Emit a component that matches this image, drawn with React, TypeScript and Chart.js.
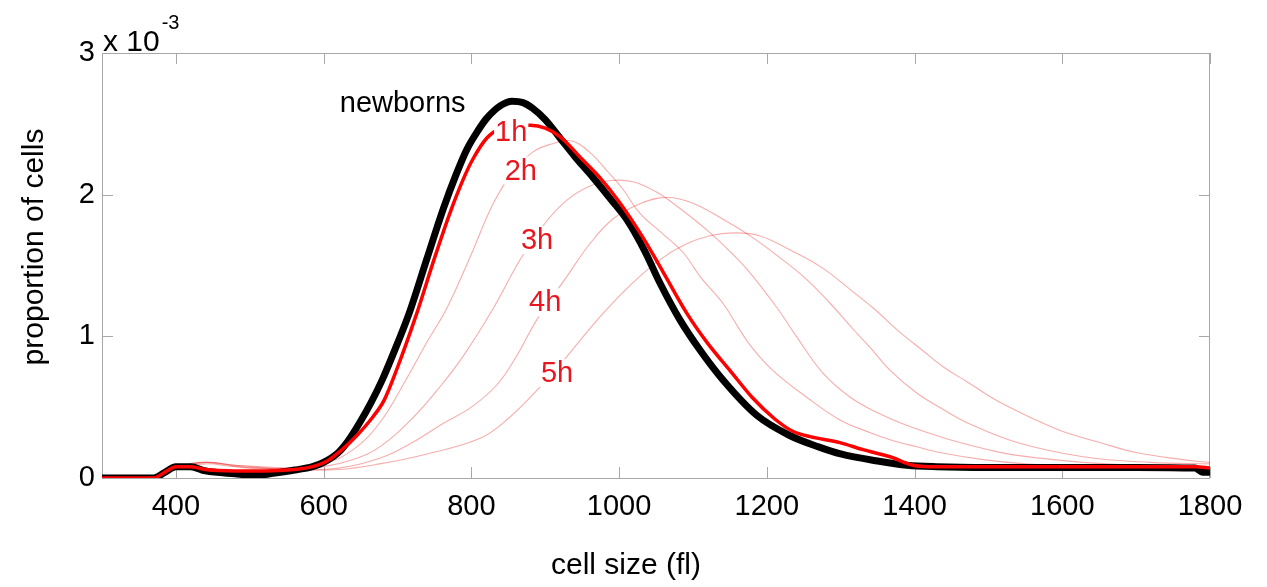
import React, { useEffect, useRef } from "react";
import { Chart, registerables } from "chart.js";

Chart.register(...registerables);

const FONT = "'Liberation Sans', Arial, Helvetica, sans-serif";

// axis ticks
const xTickValues = [400, 600, 800, 1000, 1200, 1400, 1600, 1800];
const yTickValues = [0, 1, 2, 3];
const yExponent = "-3";
const xTitle = "cell size (fl)";
const yTitle = "proportion of cells";

// newborns (black)
const newbornsX = [300, 370, 385, 400, 420, 440, 480, 510, 534, 561, 585, 600, 620, 633, 650, 664, 680, 700, 717, 740, 762, 780, 794, 810, 821, 840, 855, 870, 883, 900, 920, 940, 965, 990, 1011, 1035, 1055, 1082, 1110, 1141, 1187, 1231, 1270, 1300, 1350, 1390, 1430, 1500, 1600, 1700, 1780, 1790, 1800];
const newbornsY = [0.0, 0.0, 0.04, 0.08, 0.08, 0.05, 0.03, 0.02, 0.035, 0.056, 0.08, 0.11, 0.18, 0.26, 0.4, 0.53, 0.7, 0.95, 1.18, 1.55, 1.9, 2.15, 2.32, 2.46, 2.54, 2.63, 2.66, 2.65, 2.61, 2.53, 2.4, 2.27, 2.12, 1.96, 1.82, 1.6, 1.38, 1.12, 0.9, 0.69, 0.44, 0.3, 0.22, 0.17, 0.12, 0.09, 0.08, 0.075, 0.075, 0.075, 0.07, 0.04, 0.04];

// 1h (red, thick)
const h1X = [300, 370, 385, 400, 420, 440, 480, 520, 560, 585, 605, 625, 645, 665, 682, 700, 726, 750, 771, 790, 802, 821, 840, 860, 880, 900, 920, 950, 974, 1000, 1032, 1060, 1092, 1120, 1150, 1180, 1210, 1235, 1260, 1299, 1330, 1367, 1398, 1420, 1500, 1600, 1700, 1780, 1800];
const h1Y = [0.0, 0.0, 0.04, 0.08, 0.08, 0.06, 0.05, 0.05, 0.06, 0.08, 0.12, 0.2, 0.3, 0.42, 0.55, 0.78, 1.16, 1.55, 1.87, 2.12, 2.25, 2.4, 2.47, 2.49, 2.49, 2.47, 2.41, 2.25, 2.12, 1.95, 1.7, 1.45, 1.16, 0.95, 0.76, 0.57, 0.42, 0.33, 0.29, 0.25, 0.2, 0.15, 0.09, 0.08, 0.08, 0.08, 0.08, 0.08, 0.07];

// 2h (thin)
const h2X = [300, 370, 400, 430, 460, 500, 560, 600, 640, 676, 710, 740, 767, 800, 829, 855, 883, 910, 935, 960, 985, 1005, 1028, 1060, 1087, 1110, 1141, 1164, 1180, 1208, 1254, 1299, 1340, 1367, 1403, 1434, 1493, 1550, 1600, 1700, 1800];
const h2Y = [0.0, 0.0, 0.07, 0.11, 0.1, 0.07, 0.07, 0.1, 0.2, 0.39, 0.68, 0.96, 1.2, 1.58, 1.93, 2.15, 2.3, 2.36, 2.38, 2.3, 2.16, 2.04, 1.87, 1.72, 1.59, 1.42, 1.23, 1.04, 0.92, 0.76, 0.57, 0.41, 0.32, 0.27, 0.22, 0.18, 0.13, 0.1, 0.09, 0.085, 0.08];

// 3h (thin)
const h3X = [300, 370, 400, 440, 480, 560, 600, 640, 676, 720, 760, 789, 830, 866, 900, 929, 960, 990, 1020, 1050, 1078, 1119, 1150, 1177, 1214, 1240, 1276, 1313, 1350, 1390, 1448, 1500, 1539, 1628, 1700, 1800];
const h3Y = [0.0, 0.0, 0.07, 0.11, 0.09, 0.07, 0.08, 0.13, 0.22, 0.42, 0.66, 0.86, 1.2, 1.54, 1.8, 1.96, 2.06, 2.1, 2.09, 2.02, 1.92, 1.75, 1.6, 1.45, 1.2, 1.0, 0.74, 0.57, 0.46, 0.37, 0.27, 0.2, 0.16, 0.11, 0.09, 0.08];

// 4h (thin)
const h4X = [300, 370, 400, 440, 480, 560, 620, 676, 720, 760, 800, 835, 860, 889, 929, 960, 992, 1030, 1065, 1100, 1146, 1180, 1214, 1250, 1281, 1317, 1340, 1367, 1403, 1440, 1471, 1539, 1628, 1719, 1800];
const h4Y = [0.0, 0.0, 0.07, 0.11, 0.09, 0.06, 0.07, 0.14, 0.25, 0.38, 0.5, 0.66, 0.85, 1.12, 1.42, 1.65, 1.83, 1.94, 1.98, 1.94, 1.81, 1.7, 1.57, 1.42, 1.26, 1.05, 0.92, 0.76, 0.6, 0.48, 0.39, 0.25, 0.15, 0.11, 0.1];

// 5h (thin)
const h5X = [300, 370, 400, 440, 480, 560, 620, 676, 740, 812, 850, 889, 920, 947, 978, 1015, 1055, 1090, 1123, 1155, 1190, 1235, 1276, 1313, 1344, 1380, 1411, 1440, 1471, 1510, 1560, 1600, 1651, 1700, 1763, 1800];
const h5Y = [0.0, 0.0, 0.07, 0.1, 0.08, 0.06, 0.06, 0.1, 0.17, 0.28, 0.42, 0.62, 0.8, 0.97, 1.16, 1.36, 1.54, 1.65, 1.71, 1.73, 1.71, 1.6, 1.48, 1.33, 1.2, 1.03, 0.9, 0.78, 0.68, 0.55, 0.42, 0.33, 0.25, 0.18, 0.13, 0.11];

// in-plot curve labels (data coordinates)
const labelTexts = ["newborns", "1h", "2h", "3h", "4h", "5h"];
const labelX = [707, 854, 867, 889, 900, 916];
const labelY = [2.65, 2.44, 2.17, 1.68, 1.24, 0.74];

const RED = "#ff0000";
const LABEL_RED = "#e8161e";
const THIN = "rgba(235, 40, 40, 0.38)";

const zip = (xs: number[], ys: number[]) => xs.map((x, i) => ({ x, y: ys[i] }));

const decorPlugin = {
  id: "decor",
  beforeDatasetsDraw(chart: any) {
    const { ctx, chartArea: a, scales } = chart;
    ctx.save();
    ctx.strokeStyle = "#a8a8a8";
    ctx.lineWidth = 1;
    ctx.strokeRect(a.left + 0.5, a.top + 0.5, a.right - a.left - 1, a.bottom - a.top);
    const L = 11;
    ctx.beginPath();
    for (const v of xTickValues) {
      const px = Math.round(scales.x.getPixelForValue(v)) + 0.5;
      ctx.moveTo(px, a.bottom);
      ctx.lineTo(px, a.bottom - L);
      ctx.moveTo(px, a.top);
      ctx.lineTo(px, a.top + L);
    }
    for (const v of yTickValues) {
      const py = Math.round(scales.y.getPixelForValue(v)) + 0.5;
      ctx.moveTo(a.left, py);
      ctx.lineTo(a.left + L, py);
      ctx.moveTo(a.right, py);
      ctx.lineTo(a.right - L, py);
    }
    ctx.stroke();
    ctx.restore();
  },
  afterDatasetsDraw(chart: any) {
    const { ctx, chartArea: a, scales } = chart;
    ctx.save();
    // curve labels with white backing
    ctx.font = `29px ${FONT}`;
    ctx.textAlign = "center";
    ctx.textBaseline = "middle";
    labelTexts.forEach((t, i) => {
      const px = scales.x.getPixelForValue(labelX[i]);
      const py = scales.y.getPixelForValue(labelY[i]);
      const w = ctx.measureText(t).width;
      ctx.fillStyle = "#ffffff";
      ctx.fillRect(px - w / 2 - 1, py - 14, w + 2, 28);
      ctx.fillStyle = i === 0 ? "#000000" : LABEL_RED;
      ctx.fillText(t, px, py + 1);
    });
    // exponent
    ctx.textAlign = "left";
    ctx.textBaseline = "alphabetic";
    ctx.fillStyle = "#000";
    ctx.font = `30px ${FONT}`;
    const base = "x 10";
    ctx.fillText(base, a.left + 1, a.top - 2);
    const bw = ctx.measureText(base).width;
    ctx.font = `20px ${FONT}`;
    ctx.fillText(yExponent, a.left + bw + 3, a.top - 24);
    // axis titles
    ctx.font = `30px ${FONT}`;
    ctx.textAlign = "center";
    ctx.textBaseline = "middle";
    ctx.fillText(xTitle, 626, 566);
    ctx.save();
    ctx.translate(35, 247);
    ctx.rotate(-Math.PI / 2);
    ctx.fillText(yTitle, 0, 0);
    ctx.restore();
    ctx.restore();
  },
};

export default function App() {
  const ref = useRef<HTMLCanvasElement | null>(null);
  useEffect(() => {
    if (!ref.current) return;
    const thin = (xs: number[], ys: number[], label: string) => ({
      label,
      data: zip(xs, ys),
      borderColor: THIN,
      borderWidth: 1.1,
      pointRadius: 0,
      tension: 0.4,
      fill: false,
    });
    const chart = new Chart(ref.current, {
      type: "line",
      data: {
        datasets: [
          {
            label: "1h",
            data: zip(h1X, h1Y),
            borderColor: RED,
            borderWidth: 3.5,
            pointRadius: 0,
            cubicInterpolationMode: "monotone",
            fill: false,
          },
          {
            label: "newborns",
            data: zip(newbornsX, newbornsY),
            borderColor: "#000000",
            borderWidth: 7,
            pointRadius: 0,
            cubicInterpolationMode: "monotone",
            fill: false,
          },
          thin(h2X, h2Y, "2h"),
          thin(h3X, h3Y, "3h"),
          thin(h4X, h4Y, "4h"),
          thin(h5X, h5Y, "5h"),
        ],
      },
      options: {
        animation: false,
        responsive: false,
        devicePixelRatio: 1,
        layout: { padding: { left: 0, right: 57, top: 53, bottom: 0 } },
        plugins: { legend: { display: false }, tooltip: { enabled: false } },
        scales: {
          x: {
            type: "linear",
            min: 300,
            max: 1800,
            grid: { display: false, drawTicks: false },
            border: { display: false },
            afterBuildTicks: (s: any) => {
              s.ticks = xTickValues.map((v) => ({ value: v }));
            },
            afterFit: (s: any) => {
              s.height = 109;
            },
            ticks: {
              padding: 12,
              color: "#000",
              font: { family: FONT, size: 29 },
              maxRotation: 0,
              autoSkip: false,
              callback: (v: any) => String(v),
            },
          },
          y: {
            type: "linear",
            min: 0,
            max: 3,
            grid: { display: false, drawTicks: false },
            border: { display: false },
            afterBuildTicks: (s: any) => {
              s.ticks = yTickValues.map((v) => ({ value: v }));
            },
            afterFit: (s: any) => {
              s.width = 102;
            },
            ticks: {
              padding: 7,
              color: "#000",
              font: { family: FONT, size: 29 },
              callback: (v: any) => String(v),
            },
          },
        },
      },
      plugins: [decorPlugin],
    });
    return () => chart.destroy();
  }, []);
  return (
    <div style={{ position: "absolute", left: 0, top: 0, width: 1267, height: 587, background: "#fff" }}>
      <canvas ref={ref} width={1267} height={587} />
    </div>
  );
}
